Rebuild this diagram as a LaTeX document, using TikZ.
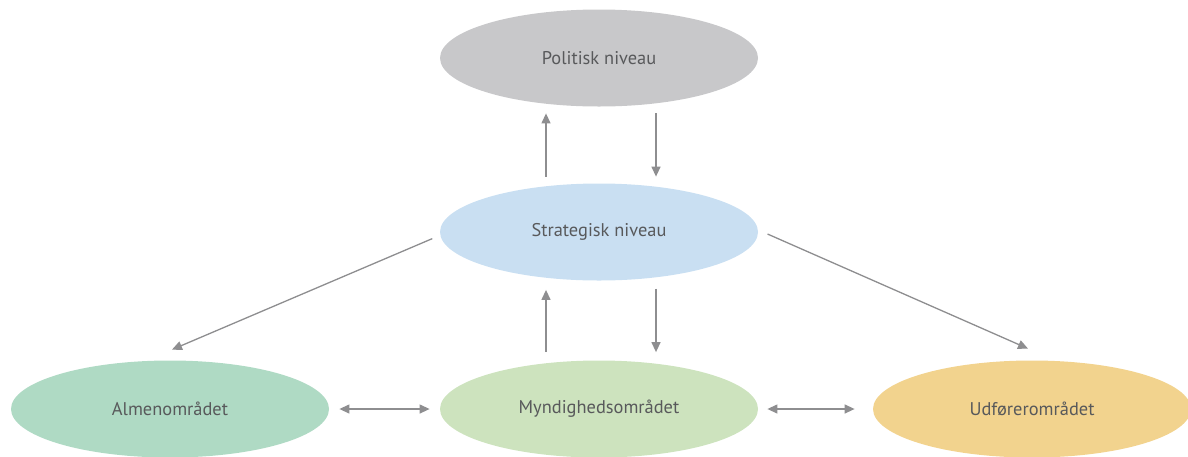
\documentclass[tikz,border=0pt]{standalone}
\usepackage{fontspec}
\setmainfont{PT Sans}
\usetikzlibrary{shapes.geometric, arrows.meta}
\definecolor{politikgray}{HTML}{C8C8CA}
\definecolor{strategiblue}{HTML}{C9DFF2}
\definecolor{almengreen}{HTML}{AFDAC4}
\definecolor{myndgreen}{HTML}{CDE3BE}
\definecolor{udfoerer}{HTML}{F2D38E}
\definecolor{textgray}{HTML}{58595B}
\definecolor{arrowgray}{HTML}{8E8E90}
\tikzset{
  level/.style={
    ellipse,
    draw=none,
    minimum width=159pt,
    minimum height=48.5pt,
    inner sep=0pt,
    text=textgray,
    font=\fontsize{9.2}{11}\selectfont
  }
}
\tikzstyle{arrow} = [->, > = {Triangle[length=5pt, width=4.5pt]}, draw=arrowgray, fill=arrowgray, line width=0.65pt]
\tikzstyle{twoway} = [<->, > = {Triangle[length=5pt, width=4.5pt]}, draw=arrowgray, fill=arrowgray, line width=0.65pt]

\begin{document}
\begin{tikzpicture}[x=0.5pt, y=-0.5pt]
    \useasboundingbox (0, 0) rectangle (1188, 456);
    \node[level, fill=politikgray] (pol) at (599, 58) {Politisk niveau};
    \node[level, fill=strategiblue] (strat) at (599, 232) {Strategisk niveau};
    \node[level, fill=almengreen] (almen) at (170, 409) {Almenområdet};
    \node[level, fill=myndgreen] (mynd) at (599, 409) {Myndighedsområdet};
    \node[level, fill=udfoerer] (udf) at (1032, 409) {Udførerområdet};
    % up and down between the levels
    \draw[arrow, shorten <=3.25pt, shorten >=3.25pt] ([xshift=-26.5pt]strat.north) -- ([xshift=-26.5pt]pol.south);
    \draw[arrow, shorten <=3.25pt, shorten >=3.25pt] ([xshift=28.5pt]pol.south) -- ([xshift=28.5pt]strat.north);
    \draw[arrow, shorten <=4pt, shorten >=4.5pt] ([xshift=-26.5pt]mynd.north) -- ([xshift=-26.5pt]strat.south);
    \draw[arrow, shorten <=4pt, shorten >=4pt] ([xshift=28.5pt]strat.south) -- ([xshift=28.5pt]mynd.north);
    % out to the areas
    \draw[arrow, shorten <=4pt] ([yshift=-1.75pt]strat.west) -- ([xshift=1pt, yshift=5.25pt]almen.north);
    \draw[arrow, shorten <=5pt] ([yshift=1pt]strat.east) -- ([xshift=-2pt, yshift=5.75pt]udf.north);
    \draw[twoway, shorten <=5pt, shorten >=5pt] (almen.east) -- (mynd.west);
    \draw[twoway, shorten <=4.5pt, shorten >=9pt] (mynd.east) -- (udf.west);
\end{tikzpicture}
\end{document}
